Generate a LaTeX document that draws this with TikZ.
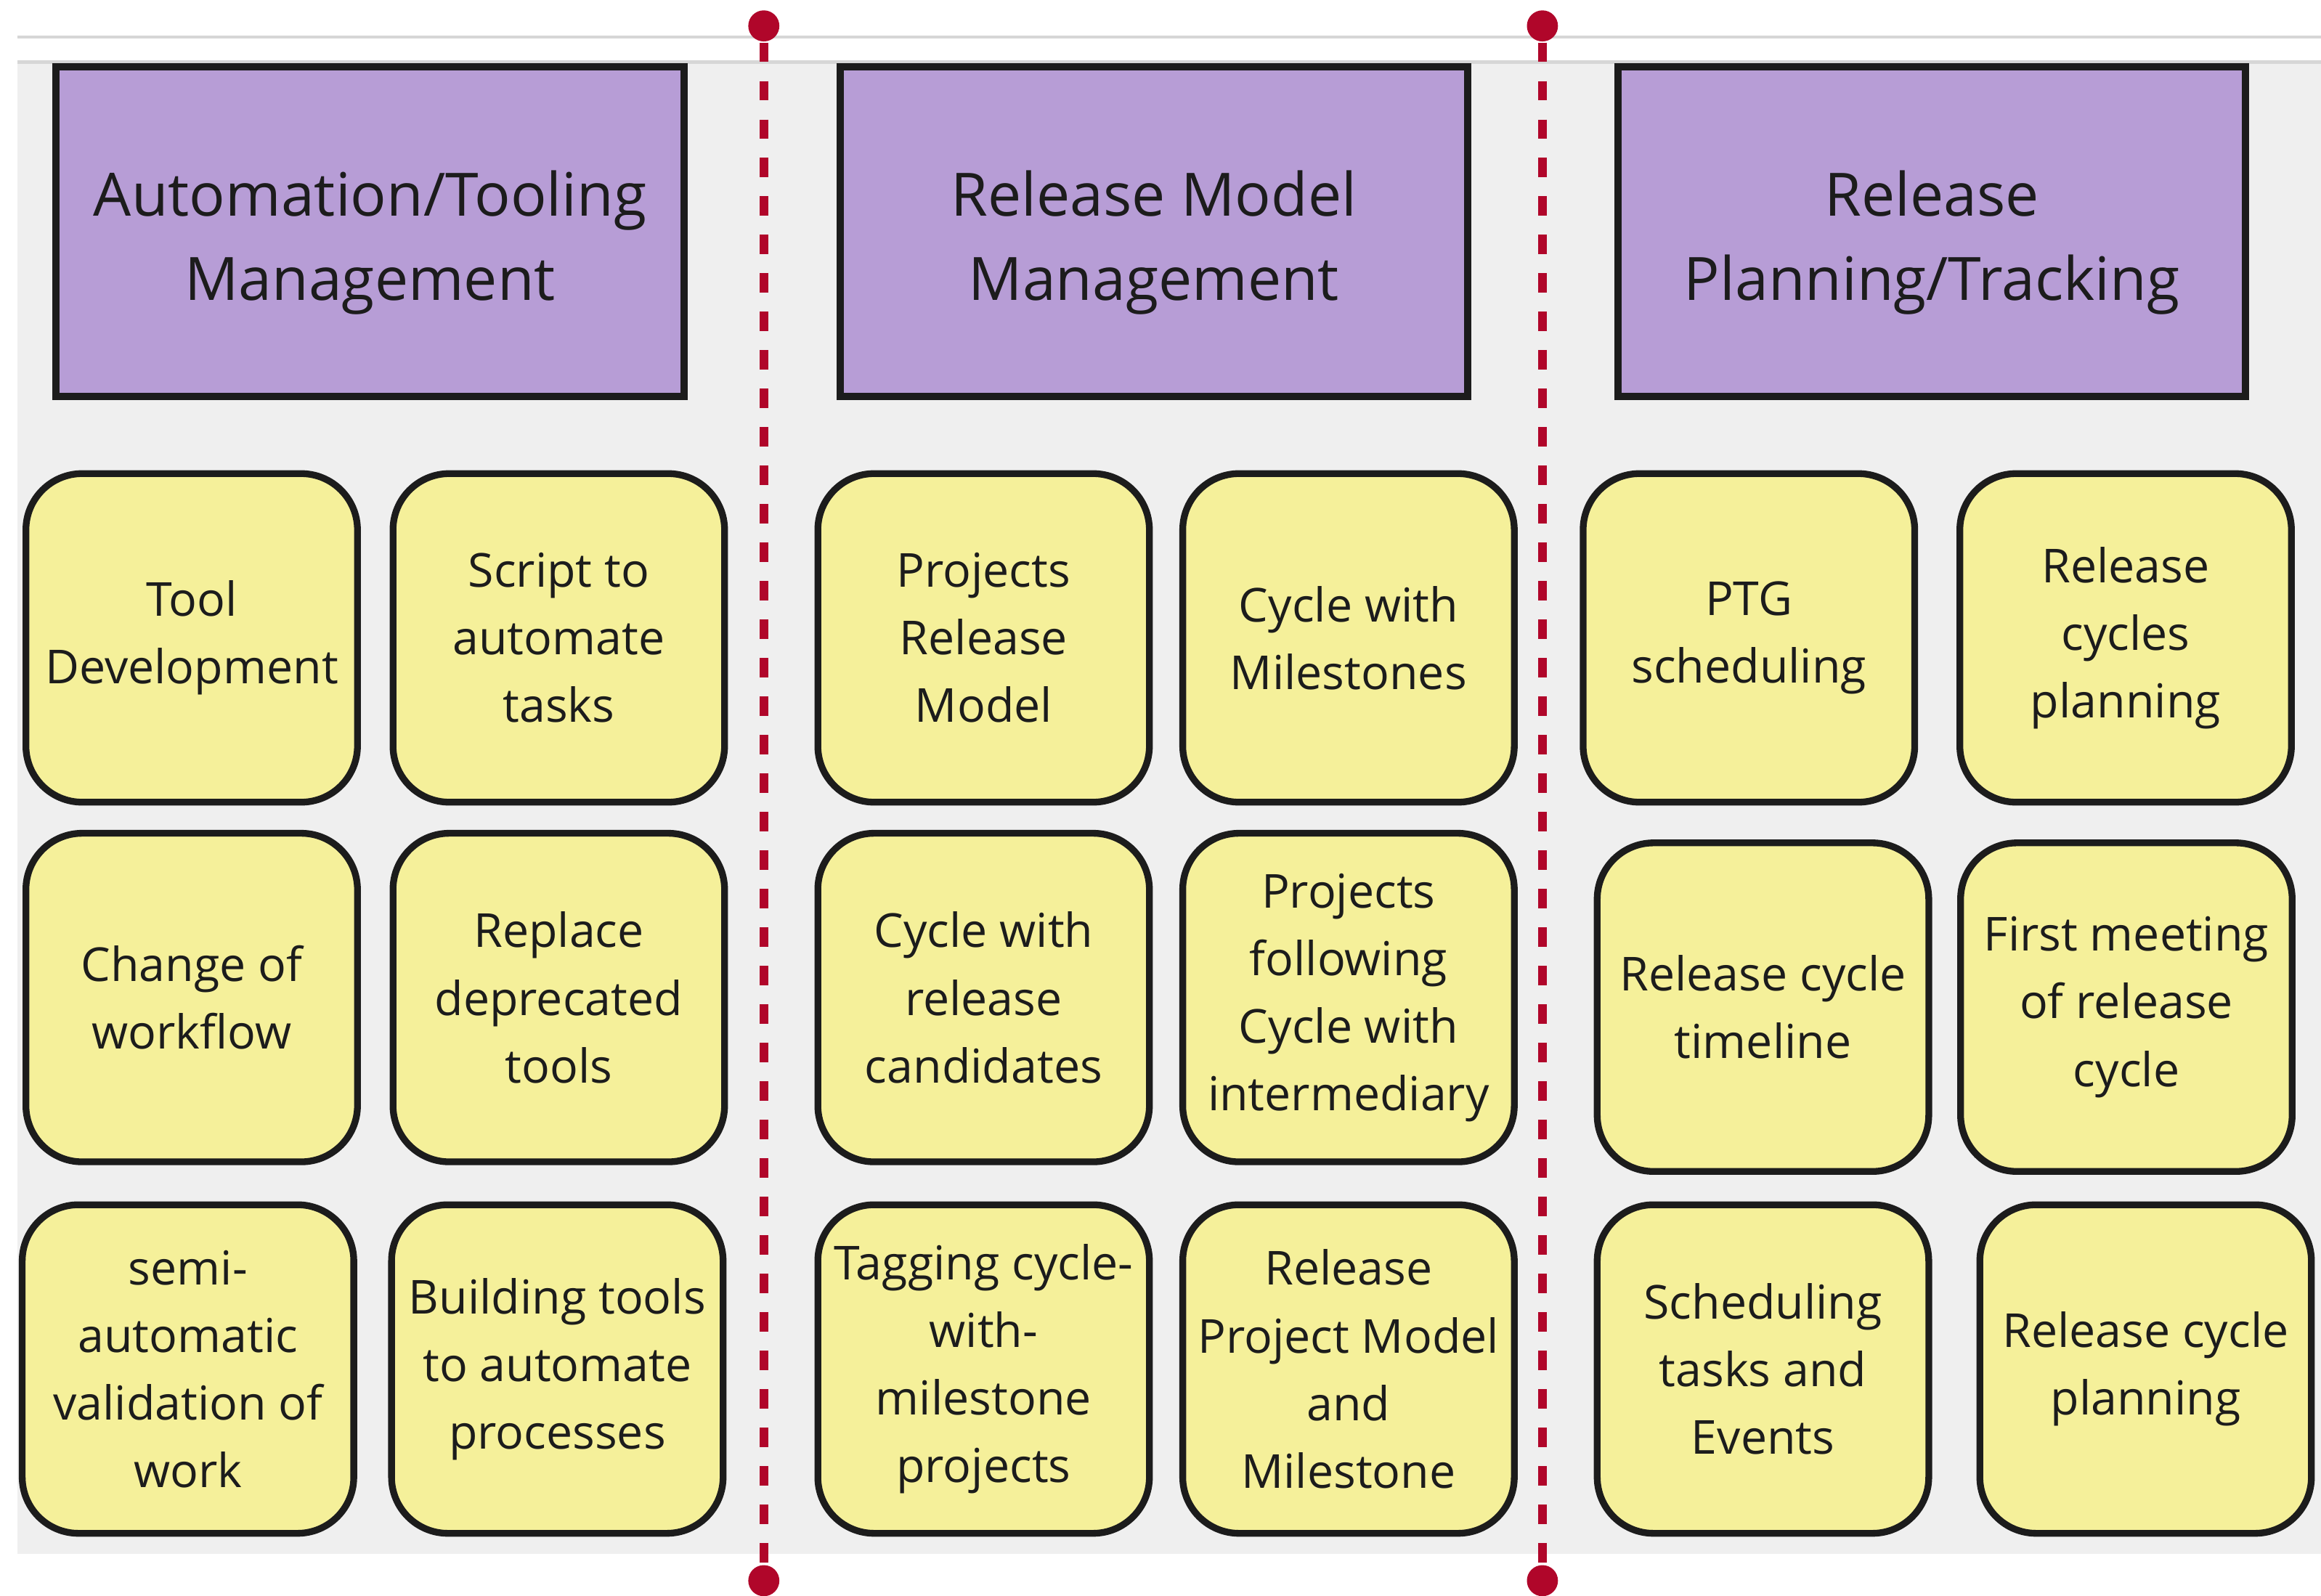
\documentclass[tikz,border=0pt]{standalone}
\usepackage{fontspec}
\setmainfont{Open Sans}
\usetikzlibrary{positioning}
\definecolor{topicpurple}{RGB}{183,157,214}
\definecolor{notefill}{RGB}{245,240,154}
\definecolor{panelgray}{RGB}{239,239,239}
\definecolor{paneledge}{RGB}{214,214,214}
\definecolor{railred}{RGB}{176,6,42}
\definecolor{inkdark}{RGB}{28,28,28}

\begin{document}
\begin{tikzpicture}[
    topic/.style={draw=inkdark, fill=topicpurple, line width=1.4pt,
                  minimum width=4.24cm, minimum height=2.23cm, text=inkdark,
                  text height=29.2pt, align=center,
                  font=\fontsize{11.5}{16.2}\selectfont},
    note/.style={draw=inkdark, fill=notefill, line width=1.3pt,
                 rounded corners=0.38cm, minimum width=2.24cm, minimum height=2.22cm,
                 inner sep=1pt, text=inkdark, align=center,
                 font=\fontsize{9}{13}\selectfont},
    divider/.style={railred, line width=1.7pt, dash pattern=on 0.13cm off 0.13cm},
    railend/.style={circle, fill=railred, inner sep=0pt, minimum size=0.21cm}]
  \useasboundingbox (0,0) rectangle (15.68,-10.783);
  % board background
  \fill[panelgray] (0.12,-0.42) rectangle (15.68,-10.50);
  \draw[paneledge, line width=0.6pt] (0.12,-0.42) -- (15.68,-0.42);
  \draw[paneledge, line width=0.5pt] (0.12,-0.25) -- (15.68,-0.25);

  % column separators
  \node[railend](topA) at (5.16,-0.175){};
  \node[railend](botA) at (5.16,-10.68){};
  \node[railend](topB) at (10.42,-0.175){};
  \node[railend](botB) at (10.42,-10.68){};
  \draw[divider](topA) -- (botA);
  \draw[divider](topB) -- (botB);

  % column headers
  \node[topic](tooling) at (2.50,-1.565){Automation/Tooling\\Management};
  \node[topic](model) at (7.795,-1.565){Release Model\\Management};
  \node[topic](tracking) at (13.05,-1.565){Release\\Planning/Tracking};

  % automation / tooling notes
  \node[note](tooldev) at (1.295,-4.31){Tool\\Development};
  \node[note](script) at (3.775,-4.31){Script to\\automate\\tasks};
  \node[note](workflow) at (1.295,-6.74){Change of\\workflow};
  \node[note](deprecated) at (3.775,-6.74){Replace\\deprecated\\tools};
  \node[note](validation) at (1.27,-9.25){semi-\\automatic\\validation of\\work};
  \node[note](building) at (3.765,-9.25){Building tools\\to automate\\processes};

  % release model notes
  \node[note](projmodel) at (6.645,-4.31){Projects\\Release\\Model};
  \node[note](milestones) at (9.11,-4.31){Cycle with\\Milestones};
  \node[note](candidates) at (6.645,-6.74){Cycle with\\release\\candidates};
  \node[note](intermediary) at (9.11,-6.74){Projects\\following\\Cycle with\\intermediary};
  \node[note](tagging) at (6.645,-9.25){Tagging cycle-\\with-\\milestone\\projects};
  \node[note](projmilestone) at (9.11,-9.25){Release\\Project Model\\and\\Milestone};

  % planning / tracking notes
  \node[note](ptg) at (11.815,-4.31){PTG\\scheduling};
  \node[note](cycles) at (14.36,-4.31){Release\\cycles\\planning};
  \node[note](timeline) at (11.91,-6.805){Release cycle\\timeline};
  \node[note](firstmeet) at (14.365,-6.805){First meeting\\of release\\cycle};
  \node[note](events) at (11.91,-9.25){Scheduling\\tasks and\\Events};
  \node[note](cycleplan) at (14.495,-9.25){Release cycle\\planning};
\end{tikzpicture}
\end{document}
